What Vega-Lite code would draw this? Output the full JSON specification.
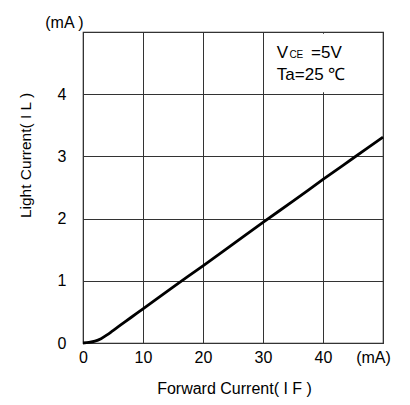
{
  "$schema": "https://vega.github.io/schema/vega-lite/v6.json",
  "width": 300,
  "height": 311,
  "autosize": "none",
  "padding": {"left": 83, "top": 32, "right": 27, "bottom": 62},
  "background": "white",
  "config": {
    "font": "Liberation Sans",
    "view": {"stroke": "#222", "strokeWidth": 1.2}
  },
  "layer": [
    {
      "data": {
        "values": [
          {"forward": 0, "light": 0},
          {"forward": 1, "light": 0.01},
          {"forward": 2, "light": 0.03},
          {"forward": 3, "light": 0.07},
          {"forward": 4, "light": 0.13},
          {"forward": 5, "light": 0.2},
          {"forward": 6, "light": 0.27},
          {"forward": 8, "light": 0.41},
          {"forward": 10, "light": 0.55},
          {"forward": 15, "light": 0.9},
          {"forward": 20, "light": 1.24},
          {"forward": 25, "light": 1.59},
          {"forward": 30, "light": 1.94},
          {"forward": 35, "light": 2.28},
          {"forward": 40, "light": 2.63},
          {"forward": 45, "light": 2.97},
          {"forward": 50, "light": 3.31}
        ]
      },
      "mark": {"type": "line", "color": "black", "strokeWidth": 2.8, "interpolate": "monotone"},
      "encoding": {
        "x": {
          "field": "forward",
          "type": "quantitative",
          "scale": {"domain": [0, 50], "nice": false},
          "axis": {
            "values": [0, 10, 20, 30, 40, 50],
            "format": "d",
            "labelExpr": "datum.value == 50 ? '(mA)' : datum.label",
            "labelOffset": {"condition": {"test": "datum.value == 50", "value": -10}, "value": 0},
            "labelFlush": false,
            "ticks": false,
            "domain": false,
            "grid": true,
            "gridColor": "#333",
            "gridOpacity": 1,
            "gridWidth": 1,
            "labelFontSize": 16,
            "labelColor": "black",
            "labelPadding": 6,
            "title": "Forward Current( I F )",
            "titleFontSize": 16,
            "titleFontWeight": "normal",
            "titleColor": "black",
            "titleX": 151,
            "titleY": 45,
            "titleBaseline": "middle"
          }
        },
        "y": {
          "field": "light",
          "type": "quantitative",
          "scale": {"domain": [0, 5], "nice": false},
          "axis": {
            "values": [0, 1, 2, 3, 4, 5],
            "format": "d",
            "labelExpr": "datum.value == 5 ? '(mA )' : datum.label",
            "labelOffset": {"condition": {"test": "datum.value == 5", "value": -10}, "value": 0},
            "labelPadding": {"condition": {"test": "datum.value == 5", "value": 0}, "value": 17},
            "labelFlush": false,
            "ticks": false,
            "domain": false,
            "grid": true,
            "gridColor": "#333",
            "gridOpacity": 1,
            "gridWidth": 1,
            "labelFontSize": 16,
            "labelColor": "black",
            "title": "Light Current( I L )",
            "titleFontSize": 15.5,
            "titleFontWeight": "normal",
            "titleColor": "black",
            "titleX": -58,
            "titleY": 123,
            "titleAngle": -90,
            "titleAlign": "center",
            "titleBaseline": "middle"
          }
        }
      }
    },
    {
      "data": {"values": [{}]},
      "mark": {"type": "rect", "fill": "white"},
      "encoding": {
        "x": {"datum": 30.25},
        "x2": {"datum": 49.75},
        "y": {"datum": 4.03},
        "y2": {"datum": 4.97}
      }
    },
    {
      "data": {"values": [{}]},
      "mark": {"type": "text", "align": "left", "baseline": "alphabetic", "fontSize": 17, "fill": "black"},
      "encoding": {"x": {"datum": 32.3}, "y": {"datum": 4.58}, "text": {"value": "V"}}
    },
    {
      "data": {"values": [{}]},
      "mark": {"type": "text", "align": "left", "baseline": "alphabetic", "fontSize": 10, "fill": "black"},
      "encoding": {"x": {"datum": 34.4}, "y": {"datum": 4.58}, "text": {"value": "CE"}}
    },
    {
      "data": {"values": [{}]},
      "mark": {"type": "text", "align": "left", "baseline": "alphabetic", "fontSize": 17, "fill": "black"},
      "encoding": {"x": {"datum": 38.0}, "y": {"datum": 4.58}, "text": {"value": "=5V"}}
    },
    {
      "data": {"values": [{}]},
      "mark": {"type": "text", "align": "left", "baseline": "alphabetic", "fontSize": 17, "fill": "black"},
      "encoding": {"x": {"datum": 32.3}, "y": {"datum": 4.23}, "text": {"value": "Ta=25 ℃"}}
    }
  ]
}
